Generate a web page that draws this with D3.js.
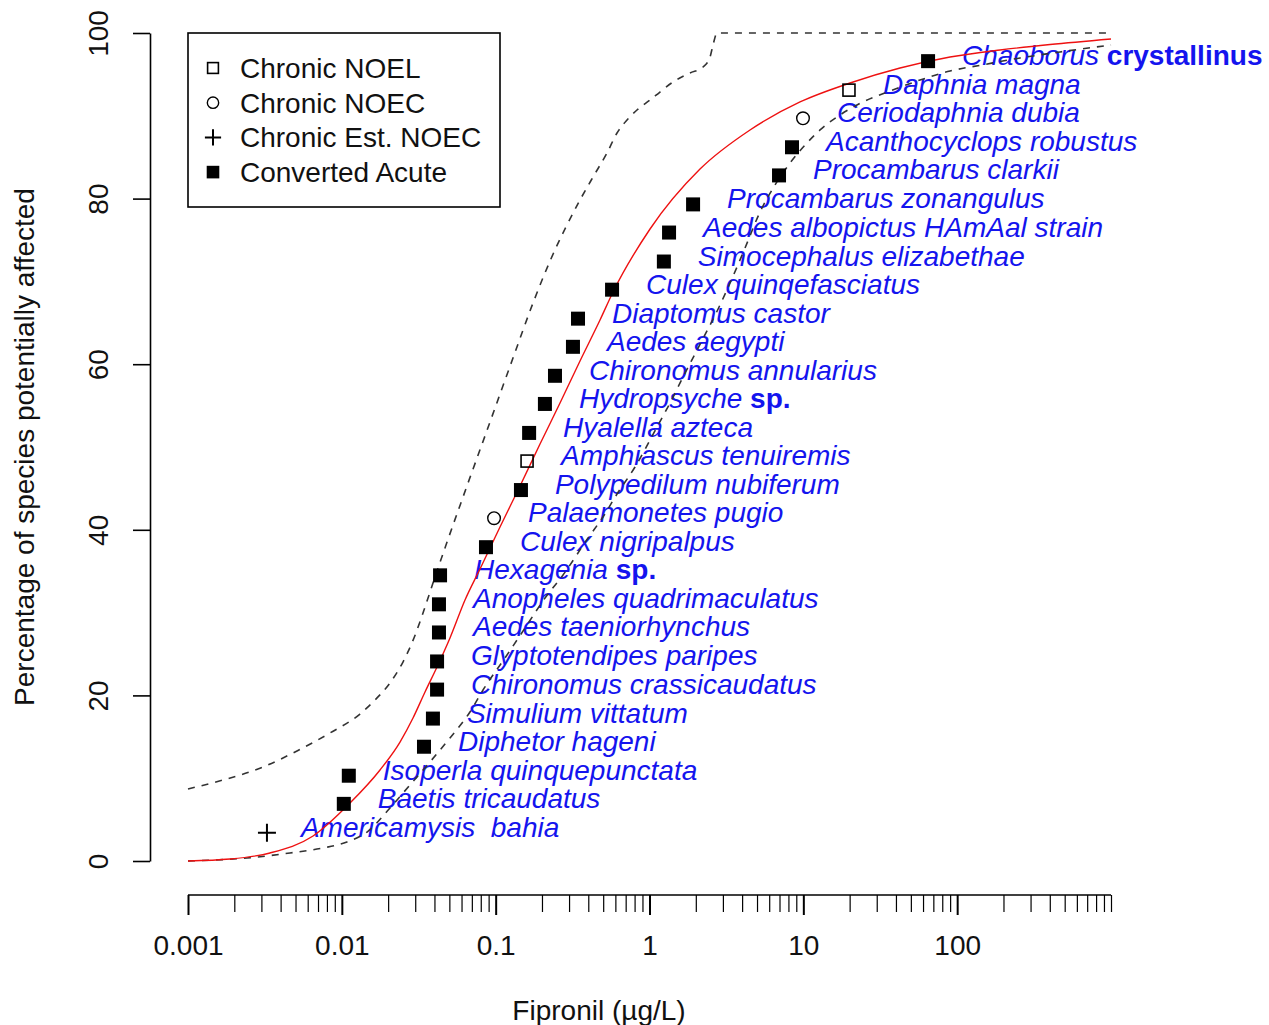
<!DOCTYPE html>
<html>
<head>
<meta charset="utf-8">
<script src="https://cdn.jsdelivr.net/npm/d3@7"></script>
<style>
  html, body { margin: 0; padding: 0; background: #fff; }
  svg { display: block; font-family: "Liberation Sans", Arial, sans-serif; }
</style>
</head>
<body>
<svg id="chart" width="1269" height="1025"></svg>
<script>
// Species sensitivity distribution for fipronil (µg/L)
const speciesNames = [
  "Americamysis  bahia", "Baetis tricaudatus", "Isoperla quinquepunctata", "Diphetor hageni",
  "Simulium vittatum", "Chironomus crassicaudatus", "Glyptotendipes paripes", "Aedes taeniorhynchus",
  "Anopheles quadrimaculatus", "Hexagenia", "Culex nigripalpus", "Palaemonetes pugio",
  "Polypedilum nubiferum", "Amphiascus tenuiremis", "Hyalella azteca", "Hydropsyche",
  "Chironomus annularius", "Aedes aegypti", "Diaptomus castor", "Culex quinqefasciatus",
  "Simocephalus elizabethae", "Aedes albopictus HAmAal strain", "Procambarus zonangulus", "Procambarus clarkii",
  "Acanthocyclops robustus", "Ceriodaphnia dubia", "Daphnia magna", "Chaoborus"
];
// non-italic trailing part of a name ("" when none)
const nameSuffix = [
  "", "", "", "", "", "", "", "", "", "sp.", "", "", "", "", "", "sp.",
  "", "", "", "", "", "", "", "", "", "", "", "crystallinus"
];
// toxicity value (µg/L)
const concValues = [
  0.00326, 0.0103, 0.0111, 0.0342, 0.0391, 0.0416, 0.0416, 0.0428,
  0.0428, 0.0435, 0.0865, 0.0976, 0.146, 0.160, 0.165, 0.209,
  0.243, 0.318, 0.343, 0.571, 1.24, 1.34, 1.92, 6.95,
  8.44, 9.95, 19.8, 64.7
];
// percentage of species potentially affected (plotting position)
const pctValues = [
  3.4, 6.9, 10.3, 13.8, 17.2, 20.7, 24.1, 27.6, 31.0, 34.5, 37.9, 41.4, 44.8, 48.3,
  51.7, 55.2, 58.6, 62.1, 65.5, 69.0, 72.4, 75.9, 79.3, 82.8, 86.2, 89.7, 93.1, 96.6
];
// data type of each value
const dataTypes = [
  "est", "acute", "acute", "acute", "acute", "acute", "acute", "acute",
  "acute", "acute", "acute", "noec", "acute", "noel", "acute", "acute",
  "acute", "acute", "acute", "acute", "acute", "acute", "acute", "acute",
  "acute", "noec", "noel", "acute"
];

// fitted distribution curve
const fitX = [0.001, 0.001875, 0.00341, 0.0065, 0.0113, 0.01771, 0.02389, 0.02902, 0.03473, 0.04157,
  0.05047, 0.0632, 0.07911, 0.1067, 0.144, 0.1942, 0.262, 0.3534, 0.4768, 0.5792,
  1.008, 2.13, 4.502, 9.517, 20.12, 42.52, 89.87, 190.0, 401.4, 1000];
const fitY = [0, 0.24, 0.97, 3.02, 7.0, 10.99, 14.37, 17.27, 20.41, 23.43,
  26.93, 31.52, 35.27, 40.34, 45.29, 50.36, 55.31, 60.39, 65.34, 68.72,
  76.33, 83.57, 88.29, 91.67, 93.96, 95.77, 97.1, 97.95, 98.61, 99.28];

// upper confidence band
const upperX = [0.001, 0.001689, 0.003073, 0.005111, 0.008378, 0.01312, 0.01643, 0.02056, 0.02497, 0.02944,
  0.03421, 0.03973, 0.04755, 0.06134, 0.09188, 0.1296, 0.1749, 0.2256, 0.3534, 0.4294,
  0.5295, 0.6149, 0.7142, 0.8294, 1.008, 1.17, 1.422, 1.834, 2.228, 2.474, 2.588, 2.748, 1000];
const upperY = [8.7, 9.78, 11.35, 13.29, 15.46, 17.75, 19.44, 21.5, 24.03, 26.93,
  30.31, 33.94, 38.16, 43.96, 53.02, 60.75, 67.39, 72.46, 79.83, 82.61,
  85.51, 87.92, 89.49, 90.7, 91.91, 92.87, 94.08, 95.17, 95.89, 97.1, 98.55, 100, 100];

// lower confidence band
const lowerX = [0.001, 0.002418, 0.004602, 0.007544, 0.0108, 0.01458, 0.02056, 0.02774, 0.03742, 0.05047,
  0.06809, 0.08276, 0.1185, 0.1598, 0.2093, 0.2741, 0.3985, 0.4985, 0.6149, 0.805,
  1.119, 1.359, 1.652, 2.037, 2.873, 3.338, 4.178, 5.229, 6.546, 8.197,
  10.26, 12.84, 17.32, 23.36, 36.61, 57.36, 89.87, 145.1, 256.2, 466.4, 1000];
const lowerY = [0, 0.36, 0.97, 1.57, 2.29, 3.5, 6.4, 9.18, 11.96, 14.86,
  18.0, 20.65, 24.88, 28.5, 31.76, 34.54, 39.01, 41.55, 44.32, 47.58,
  52.42, 55.31, 58.45, 61.71, 67.15, 69.81, 74.03, 78.38, 81.64, 84.3,
  86.47, 88.29, 90.1, 91.5, 92.99, 94.32, 95.41, 96.14, 96.98, 97.71, 98.55];

// axis ticks
const xMajorTicks = [0.001, 0.01, 0.1, 1, 10, 100];
const xMajorLabels = ["0.001", "0.01", "0.1", "1", "10", "100"];
const yTicks = [0, 20, 40, 60, 80, 100];
const legendLabels = ["Chronic NOEL", "Chronic NOEC", "Chronic Est. NOEC", "Converted Acute"];
const legendTypes = ["noel", "noec", "est", "acute"];

const svg = d3.select("#chart");
const x = d3.scaleLog().domain([0.001, 1000]).range([188, 1111]);
const y = d3.scaleLinear().domain([0, 100]).range([861, 33]);
const FONT = 28;

// minor ticks: 2..9 within each decade, plus the 1000 end tick
const xMinorTicks = [];
for (let e = -3; e < 3; e++) {
  for (let m = 2; m <= 9; m++) xMinorTicks.push(+(m * Math.pow(10, e)).toPrecision(3));
}
xMinorTicks.push(1000);

// ---- x axis
const xAxisY = 895;
const gxMinor = svg.append("g").attr("transform", `translate(0,${xAxisY})`)
  .call(d3.axisBottom(x).tickValues(xMinorTicks).tickSize(17).tickFormat(""));
gxMinor.select(".domain").remove();
gxMinor.selectAll(".tick line").attr("stroke", "#000").attr("stroke-width", 1.2);

const gx = svg.append("g").attr("transform", `translate(0,${xAxisY})`)
  .call(d3.axisBottom(x).tickValues(xMajorTicks).tickSize(20).tickSizeOuter(0)
    .tickFormat((d, i) => xMajorLabels[i]));
gx.select(".domain").attr("d", `M${x(0.001)},0H${x(1000)}`).attr("stroke", "#000").attr("stroke-width", 1.6);
gx.selectAll(".tick line").attr("stroke", "#000").attr("stroke-width", 2);
gx.selectAll(".tick text").attr("y", 60).attr("dy", null)
  .attr("font-size", FONT).attr("font-family", "Liberation Sans, Arial, sans-serif").attr("fill", "#111");

svg.append("text").attr("x", 599).attr("y", 1020).attr("text-anchor", "middle")
  .attr("font-size", FONT).attr("fill", "#111").text("Fipronil (µg/L)");

// ---- y axis
const yAxisX = 150;
const gy = svg.append("g").attr("transform", `translate(${yAxisX},0)`)
  .call(d3.axisLeft(y).tickValues(yTicks).tickSize(17).tickSizeOuter(0).tickFormat(""));
gy.select(".domain").attr("stroke", "#000").attr("stroke-width", 1.6);
gy.selectAll(".tick line").attr("stroke", "#000").attr("stroke-width", 1.6);
gy.selectAll(".tick").append("text")
  .attr("transform", "translate(-52,0) rotate(-90)")
  .attr("text-anchor", "middle").attr("dy", "0.36em")
  .attr("font-size", FONT).attr("fill", "#111")
  .text(d => d);

svg.append("text")
  .attr("transform", `translate(34,${(y(0) + y(100)) / 2}) rotate(-90)`)
  .attr("text-anchor", "middle").attr("font-size", FONT).attr("fill", "#111")
  .text("Percentage of species potentially affected");

// ---- species labels
const labels = svg.append("g").attr("font-size", FONT).attr("fill", "#1414ee");
speciesNames.forEach((name, i) => {
  const t = labels.append("text")
    .attr("x", x(concValues[i]) + 34)
    .attr("y", y(pctValues[i]) + 4)
    .style("white-space", "pre");
  t.append("tspan").attr("font-style", "italic").text(name);
  if (nameSuffix[i]) {
    t.append("tspan").attr("font-weight", "bold").text(" " + nameSuffix[i]);
  }
});

// ---- curves
const line = (xs, ys) => d3.line().x(d => x(d[0])).y(d => y(d[1])).curve(d3.curveMonotoneX)(xs.map((v, i) => [v, ys[i]]));

svg.append("path").attr("d", line(upperX, upperY))
  .attr("fill", "none").attr("stroke", "#333").attr("stroke-width", 1.6).attr("stroke-dasharray", "7,7");
svg.append("path").attr("d", line(lowerX, lowerY))
  .attr("fill", "none").attr("stroke", "#333").attr("stroke-width", 1.6).attr("stroke-dasharray", "7,7");
svg.append("path").attr("d", line(fitX, fitY))
  .attr("fill", "none").attr("stroke", "#ee1111").attr("stroke-width", 1.4);

// ---- point markers
function drawMarker(g, type, cx, cy, s) {
  if (type === "acute") {
    g.append("rect").attr("x", cx - 7 * s).attr("y", cy - 7 * s).attr("width", 14 * s).attr("height", 14 * s).attr("fill", "#000");
  } else if (type === "noel") {
    g.append("rect").attr("x", cx - 6 * s).attr("y", cy - 6 * s).attr("width", 12 * s).attr("height", 12 * s)
      .attr("fill", "none").attr("stroke", "#000").attr("stroke-width", 1.6);
  } else if (type === "noec") {
    g.append("circle").attr("cx", cx).attr("cy", cy).attr("r", 6.3 * s)
      .attr("fill", "none").attr("stroke", "#000").attr("stroke-width", 1.4);
  } else {
    g.append("path").attr("d", `M${cx - 9 * s},${cy}H${cx + 9 * s}M${cx},${cy - 9 * s}V${cy + 9 * s}`)
      .attr("stroke", "#000").attr("stroke-width", 2).attr("fill", "none");
  }
}
const pts = svg.append("g");
concValues.forEach((v, i) => drawMarker(pts, dataTypes[i], x(v), y(pctValues[i]), 1));

// ---- legend
const lg = svg.append("g");
lg.append("rect").attr("x", 188).attr("y", 33).attr("width", 312).attr("height", 174)
  .attr("fill", "#fff").attr("stroke", "#000").attr("stroke-width", 1.6);
legendLabels.forEach((lab, i) => {
  const cy = 68 + i * 34.7;
  drawMarker(lg, legendTypes[i], 213, cy, 0.9);
  lg.append("text").attr("x", 240).attr("y", cy + 10).attr("font-size", FONT).attr("fill", "#111").text(lab);
});
</script>
</body>
</html>
